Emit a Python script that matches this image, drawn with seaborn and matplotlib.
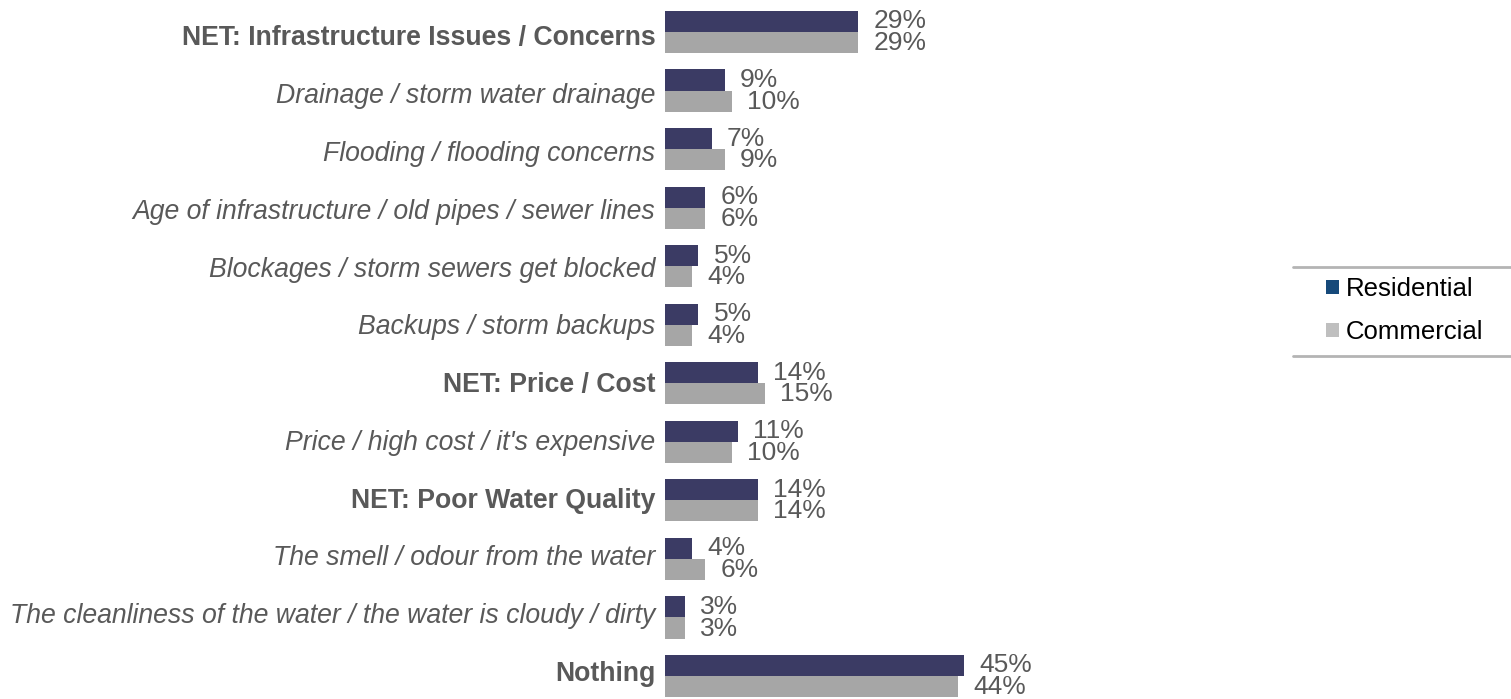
import matplotlib
matplotlib.use("Agg")
import matplotlib.pyplot as plt
from matplotlib.patches import Patch
from matplotlib.lines import Line2D
import pandas as pd
import seaborn as sns

categories = [
    "NET: Infrastructure Issues / Concerns",
    "Drainage / storm water drainage",
    "Flooding / flooding concerns",
    "Age of infrastructure / old pipes / sewer lines",
    "Blockages / storm sewers get blocked",
    "Backups / storm backups",
    "NET: Price / Cost",
    "Price / high cost / it's expensive",
    "NET: Poor Water Quality",
    "The smell / odour from the water",
    "The cleanliness of the water / the water is cloudy / dirty",
    "Nothing",
]
bold_rows = [True, False, False, False, False, False, True, False, True, False, False, True]
residential = [29, 9, 7, 6, 5, 5, 14, 11, 14, 4, 3, 45]
commercial = [29, 10, 9, 6, 4, 4, 15, 10, 14, 6, 3, 44]
series = ["Residential", "Commercial"]

bar_colors = {"Residential": "#3b3b64", "Commercial": "#a6a6a6"}
legend_colors = {"Residential": "#16497a", "Commercial": "#bfbfbf"}
text_color = "#595959"

df = pd.DataFrame({
    "Category": categories * 2,
    "Group": ["Residential"] * len(categories) + ["Commercial"] * len(categories),
    "Value": residential + commercial,
})

sns.set_style("white")
plt.rcParams["font.family"] = ["Liberation Sans", "DejaVu Sans"]

W, H = 1511, 699
fig = plt.figure(figsize=(W / 100, H / 100), dpi=100)
ax_left, ax_right = 665, 1290
ax = fig.add_axes([ax_left / W, 0, (ax_right - ax_left) / W, 1])

sns.barplot(data=df, x="Value", y="Category", hue="Group", order=categories,
            hue_order=series, palette=bar_colors, orient="h", width=0.72,
            saturation=1, edgecolor="none", legend=False, ax=ax)

px_per_unit = 6.65
ax.set_xlim(0, (ax_right - ax_left) / px_per_unit)
row_px = 58.55
ax.set_ylim(11 + (H - 676) / row_px, -32 / row_px)

ax.set_xlabel("")
ax.set_ylabel("")
ax.set_xticks([])
# category labels sit on a slightly tighter pitch than the bar rows
label_pos = [i + (3.5 - 0.77 * i) / row_px for i in range(len(categories))]
ax.set_yticks(label_pos)
ax.set_yticklabels(categories)
ax.tick_params(axis="y", length=0, pad=7)
for lbl, b in zip(ax.get_yticklabels(), bold_rows):
    lbl.set_fontsize(19.2)
    lbl.set_color(text_color)
    if b:
        lbl.set_fontweight("bold")
    else:
        lbl.set_fontstyle("italic")
for s in ax.spines.values():
    s.set_visible(False)

for i, (r, c) in enumerate(zip(residential, commercial)):
    ax.text(r + 2.3, i - 0.18, f"{r}%", va="center", ha="left",
            fontsize=19, color=text_color)
    ax.text(c + 2.3, i + 0.19, f"{c}%", va="center", ha="left",
            fontsize=19, color=text_color)

# Legend box with rules above and below
handles = [Patch(facecolor=legend_colors[s], edgecolor="none") for s in series]
fig.legend(handles, series, loc="upper left",
           bbox_to_anchor=(1326 / W, 1 - 277 / H), frameon=False,
           borderpad=0, borderaxespad=0,
           fontsize=18.5, handlelength=0.5, handleheight=0.5,
           handletextpad=0.27, labelspacing=0.74, labelcolor="#000000")
for y in (267, 356):
    fig.add_artist(Line2D([1293 / W, 1.0], [1 - y / H, 1 - y / H],
                          transform=fig.transFigure, color="#b4b4b4", lw=2))

fig.savefig("out.png", dpi=100)
